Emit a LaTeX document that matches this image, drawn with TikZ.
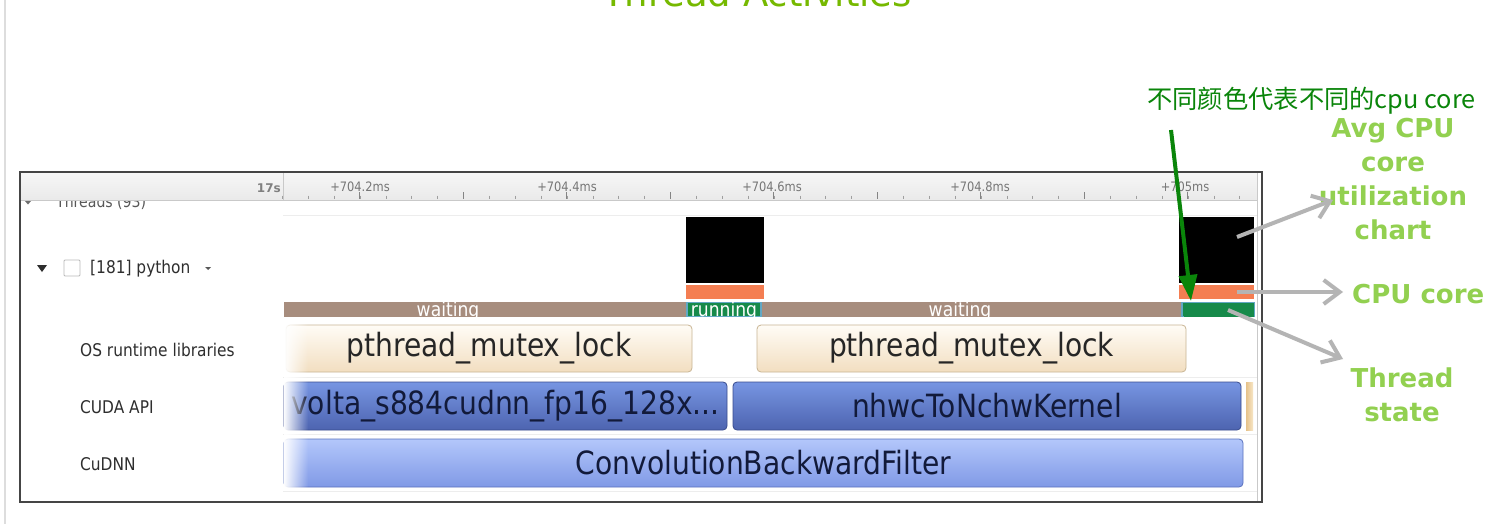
\documentclass[tikz,border=0pt]{standalone}
\usepackage{fontspec}
\setmainfont{DejaVu Sans}
\newfontfamily\cond[FakeStretch=0.88]{DejaVu Sans}
\newfontfamily\cjk{Noto Sans CJK SC}
\usetikzlibrary{arrows.meta,fadings}
\definecolor{titlegreen}{HTML}{76B900}
\definecolor{lblgreen}{HTML}{92D050}
\definecolor{darkgreen}{HTML}{0A850A}
\definecolor{arrowgrey}{HTML}{B4B4B4}
\definecolor{framegrey}{HTML}{454545}
\definecolor{hdrtop}{HTML}{F7F7F7}
\definecolor{hdrbot}{HTML}{E9E9E9}
\definecolor{hdrline}{HTML}{C9C9C9}
\definecolor{ticktext}{HTML}{767676}
\definecolor{labeltext}{HTML}{2E2E2E}
\definecolor{cpuorange}{HTML}{F47E52}
\definecolor{waitbrown}{HTML}{A78D7E}
\definecolor{rungreen}{HTML}{168A4A}
\definecolor{runedge}{HTML}{62A8C4}
\definecolor{ostop}{HTML}{FFFCF6}
\definecolor{osmid}{HTML}{FDF0DE}
\definecolor{osbot}{HTML}{F2DEC0}
\definecolor{osedge}{HTML}{C8B594}
\definecolor{cutop}{HTML}{7795E2}
\definecolor{cumid}{HTML}{6583D6}
\definecolor{cubot}{HTML}{4D64B0}
\definecolor{cuedge}{HTML}{394C8E}
\definecolor{dnntop}{HTML}{B3C7FB}
\definecolor{dnnmid}{HTML}{9AB3F5}
\definecolor{dnnbot}{HTML}{8099E6}
\definecolor{dnnedge}{HTML}{5A72BE}
\definecolor{bartext}{HTML}{262626}
\definecolor{navytext}{HTML}{121A3A}
\definecolor{sepgrey}{HTML}{EDEDED}
\definecolor{pageline}{HTML}{DDDDDD}
\definecolor{tanL}{HTML}{E6C28A}
\definecolor{tanR}{HTML}{F7E6C6}
\tikzfading[name=fadeout, left color=transparent!0, right color=transparent!100]
\tikzset{
  barbase/.style={rounded corners=4pt, inner sep=0pt, line width=0.8pt},
  osbar/.style={barbase, draw=osedge, top color=ostop, middle color=osmid, bottom color=osbot,
    text=bartext, font=\cond\fontsize{32}{32}\selectfont, minimum height=47pt},
  cubar/.style={barbase, draw=cuedge, top color=cutop, middle color=cumid, bottom color=cubot,
    text=navytext, font=\cond\fontsize{32}{32}\selectfont, minimum height=48pt},
  dnnbar/.style={barbase, draw=dnnedge, top color=dnntop, middle color=dnnmid, bottom color=dnnbot,
    text=navytext, font=\cond\fontsize{32}{32}\selectfont, minimum height=48pt},
  block/.style={inner sep=0pt, outer sep=0pt, draw=none},
  rowlabel/.style={anchor=west, inner sep=0pt, font=\cond\fontsize{17.5}{17.5}\selectfont, text=labeltext},
  ticklabel/.style={anchor=base, inner sep=0pt, font=\cond\fontsize{13}{13}\selectfont, text=ticktext},
  statetext/.style={anchor=base, inner sep=0pt, font=\cond\fontsize{19.5}{19.5}\selectfont, text=white},
  greenlbl/.style={inner sep=0pt, align=center, font=\bfseries\fontsize{26}{34}\selectfont, text=lblgreen},
  greyarrow/.style={draw=arrowgrey, line width=4pt, -{Straight Barb[length=16pt,width=24pt]}},
  greenarrow/.style={draw=darkgreen, line width=4pt, -{Triangle[length=26pt,width=18pt]}},
  sepline/.style={draw=sepgrey, line width=0.8pt}
}
\begin{document}
\begin{tikzpicture}[x=1pt,y=-1pt]
\useasboundingbox (0,0) rectangle (1501,524);
\clip (0,0) rectangle (1501,524);
\fill[white] (0,0) rectangle (1501,524);
\draw[pageline, line width=1.2pt] (5,0) -- (5,524);

% title (cut off at top, as in the reference)
\node[anchor=base, inner sep=0pt, font=\fontsize{37}{37}\selectfont, text=titlegreen] (title) at (757,7) {Thread Activities};

% panel background
\fill[white] (21,173) rectangle (1261,501);

% partially hidden threads line
\node[anchor=base west, inner sep=0pt, font=\cond\fontsize{16}{16}\selectfont, text=labeltext!80] (threads) at (56,207) {Threads (93)};
\fill[labeltext!70] (25,201) -- (31,201) -- (28,204.5) -- cycle;

% header ruler
\shade[top color=hdrtop, bottom color=hdrbot] (21,173) rectangle (1257,200);
\draw[hdrline, line width=1pt] (21,200) -- (1257,200);
\draw[hdrline, line width=1pt] (283,173) -- (283,200);
\node[anchor=base east, inner sep=0pt, font=\bfseries\fontsize{12}{12}\selectfont, text=gray] (t17) at (281,192) {17s};
\foreach \k in {0,...,37} {\draw[ticktext!70, line width=0.7pt] (\k*25.875+282.4,195.5) -- ++(0,3);}
\foreach \j in {0,...,8} {\draw[ticktext!90, line width=0.8pt] (\j*103.5+359.6,192) -- ++(0,6.5);}
\node[ticklabel] (r1) at (360,191) {+704.2ms};
\node[ticklabel] (r2) at (567,191) {+704.4ms};
\node[ticklabel] (r3) at (772,191) {+704.6ms};
\node[ticklabel] (r4) at (980,191) {+704.8ms};
\node[ticklabel] (r5) at (1185,191) {+705ms};

% row separators
\draw[sepline] (283,215) -- (1257,215);
\draw[sepline] (283,377) -- (1257,377);
\draw[sepline] (283,434) -- (1257,434);
\draw[sepline] (283,491) -- (1257,491);

% python thread row
\fill[labeltext] (37,265) -- (47,265) -- (42,272) -- cycle;
\draw[gray!55, fill=white, rounded corners=1pt, line width=0.8pt] (64,260) rectangle (80,276);
\node[rowlabel] (pyl) at (90,268.5) {[181] python};
\fill[labeltext!80] (205,267) -- (211,267) -- (208,270) -- cycle;

% cpu utilization blocks
\node[block, fill=black, minimum width=78pt, minimum height=66pt] (cpu1) at (725,250) {};
\node[block, fill=black, minimum width=75pt, minimum height=66pt] (cpu2) at (1216.5,250) {};
\node[block, fill=cpuorange, minimum width=78pt, minimum height=14pt] (core1) at (725,292) {};
\node[block, fill=cpuorange, minimum width=75pt, minimum height=14pt] (core2) at (1216.5,292) {};

% thread state bar
\node[block, fill=waitbrown, minimum width=970pt, minimum height=15pt] (state) at (769,309.5) {};
\node[block, fill=rungreen, draw=runedge, line width=1.2pt, minimum width=74pt, minimum height=14pt] (run1) at (724,309.5) {};
\node[block, fill=rungreen, draw=runedge, line width=1.2pt, minimum width=72pt, minimum height=14pt] (run2) at (1218,309.5) {};
\fill[rungreen] (1184,303) rectangle (1254,316.5);
\node[statetext] (w1) at (448,316.5) {waiting};
\node[statetext] (rn) at (724,316.5) {running};
\node[statetext] (w2) at (960,316.5) {waiting};

% library rows
\node[rowlabel] (osl) at (80,349.5) {OS runtime libraries};
\node[rowlabel] (cul) at (80,407) {CUDA API};
\node[rowlabel] (dnl) at (80,464) {CuDNN};

\node[osbar, minimum width=406pt] (os1) at (489,348.5) {pthread\_mutex\_lock};
\node[osbar, minimum width=429pt] (os2) at (971.5,348.5) {pthread\_mutex\_lock};
\node[cubar, minimum width=443pt] (cu1) at (505.5,406) {volta\_s884cudnn\_fp16\_128x...};
\node[cubar, minimum width=508pt] (cu2) at (987,406) {nhwcToNchwKernel};
\node[block, left color=tanL, right color=tanR, minimum width=7pt, minimum height=48pt] (tan) at (1249.5,406) {};
\node[dnnbar, minimum width=959pt] (dnn) at (763.5,463) {ConvolutionBackwardFilter};
\fill[white, path fading=fadeout] (283.5,322) rectangle (308,490);

% panel frame
\draw[hdrline, line width=1pt] (1257,173) -- (1257,501);
\draw[framegrey, line width=1.5pt] (20,172) rectangle (1262,502);

% annotations
\node[anchor=base west, inner sep=0pt, font=\cjk\fontsize{25.3}{25.3}\selectfont, text=darkgreen] (cjknote) at (1147,109) {不同颜色代表不同的cpu core};
\node[greenlbl] (avglbl) at (1393,179) {Avg CPU\\core\\utilization\\chart};
\node[greenlbl, anchor=west] (corelbl) at (1352,294) {CPU core};
\node[greenlbl] (statelbl) at (1402,395) {Thread\\state};

\coordinate (ga) at (1171,130);
\coordinate (gb) at (1191,301);
\draw[greenarrow] (ga) -- (gb);

\coordinate (a1s) at (1237,237);
\coordinate (a1e) at (1333,200);
\coordinate (a2s) at (1237,292);
\coordinate (a2e) at (1343,292);
\coordinate (a3s) at (1228,310);
\coordinate (a3e) at (1343,359);
\draw[greyarrow] (a1s) -- (a1e);
\draw[greyarrow] (a2s) -- (a2e);
\draw[greyarrow] (a3s) -- (a3e);
\end{tikzpicture}
\end{document}
